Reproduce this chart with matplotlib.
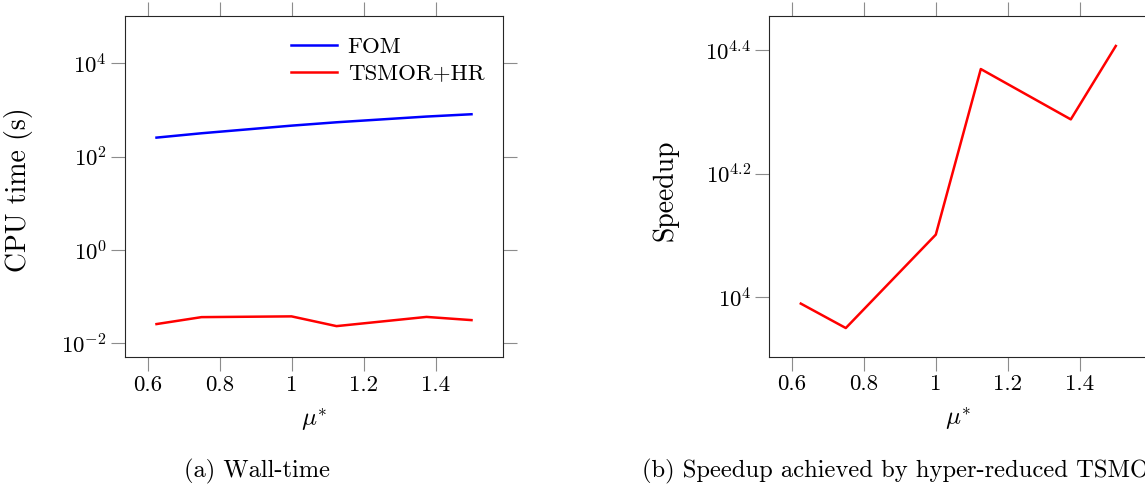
import math
import matplotlib
matplotlib.use("Agg")
import matplotlib.pyplot as plt
from matplotlib.ticker import FixedLocator, FuncFormatter, NullLocator

plt.rcParams['font.family'] = 'serif'
plt.rcParams['font.serif'] = ['cmr10']
plt.rcParams['mathtext.fontset'] = 'cm'
plt.rcParams['axes.formatter.use_mathtext'] = True

# values
mu = [0.625, 0.75, 1.0, 1.125, 1.375, 1.5]
fom_time = [255, 316, 460, 543, 720, 807]
tsmor_time = [0.026, 0.0366, 0.038, 0.0235, 0.037, 0.0316]
speedup = [9770, 8920, 12630, 23400, 19400, 25500]

x_ticks = [0.6, 0.8, 1.0, 1.2, 1.4]
x_labels = ['0.6', '0.8', '1', '1.2', '1.4']
left_yticks = [1e-2, 1e0, 1e2, 1e4]
right_yexp = [4.0, 4.2, 4.4]

W, H = 1145, 486
fig = plt.figure(figsize=(W / 100, H / 100), dpi=100)


def style_axes(ax):
    ax.set_xlim(0.5375, 1.5875)
    ax.set_xticks(x_ticks)
    ax.set_xticklabels(x_labels)
    ax.tick_params(which='major', direction='out', length=10, width=0.8,
                   color='0.55', labelsize=16.5, top=True, right=True,
                   labeltop=False, labelright=False, pad=3)
    ax.tick_params(which='minor', length=0)
    for s in ax.spines.values():
        s.set_linewidth(0.8)
        s.set_color('0.15')
    ax.set_xlabel(r'$\mu^{\ast}$', fontsize=18, labelpad=8)


def exp_label(v, pos):
    e = math.log10(v)
    if abs(e - round(e)) < 1e-6:
        return r'$10^{%d}$' % round(e)
    return r'$10^{%.1f}$' % e


# (a) wall time
ax1 = fig.add_axes([125 / W, 1 - 357 / H, 378 / W, 341 / H])
ax1.set_yscale('log')
ax1.plot(mu, fom_time, color='#0000ff', lw=1.8, label='FOM')
ax1.plot(mu, tsmor_time, color='#ff0000', lw=1.8, label='TSMOR+HR')
style_axes(ax1)
ax1.set_ylim(10 ** -2.29, 10 ** 5.01)
ax1.yaxis.set_major_locator(FixedLocator(left_yticks))
ax1.yaxis.set_minor_locator(NullLocator())
ax1.yaxis.set_major_formatter(FuncFormatter(exp_label))
ax1.set_ylabel('CPU time (s)', fontsize=20)
ax1.yaxis.set_label_coords(-0.243, 0.49)
leg = ax1.legend(loc='upper right', frameon=False, fontsize=16.5,
                 handlelength=2.0, handletextpad=0.45, labelspacing=0.3,
                 bbox_to_anchor=(1.005, 1.0))

# (b) speedup
ax2 = fig.add_axes([769.3 / W, 1 - 356.7 / H, 378 / W, 340.7 / H])
ax2.set_yscale('log')
ax2.plot(mu, speedup, color='#ff0000', lw=1.8)
style_axes(ax2)
ax2.set_ylim(10 ** 3.904, 10 ** 4.455)
ax2.yaxis.set_major_locator(FixedLocator([10 ** e for e in right_yexp]))
ax2.yaxis.set_minor_locator(NullLocator())
ax2.yaxis.set_major_formatter(FuncFormatter(exp_label))
ax2.set_ylabel('Speedup', fontsize=20)
ax2.yaxis.set_label_coords(-0.239, 0.49)

# captions
fig.text(257 / W, 1 - 471 / H, '(a) Wall-time', fontsize=17.7,
         ha='center', va='center')
fig.text(642 / W, 1 - 471 / H, '(b) Speedup achieved by hyper-reduced TSMOR',
         fontsize=17.7, ha='left', va='center')

fig.savefig('out.png', dpi=100)
